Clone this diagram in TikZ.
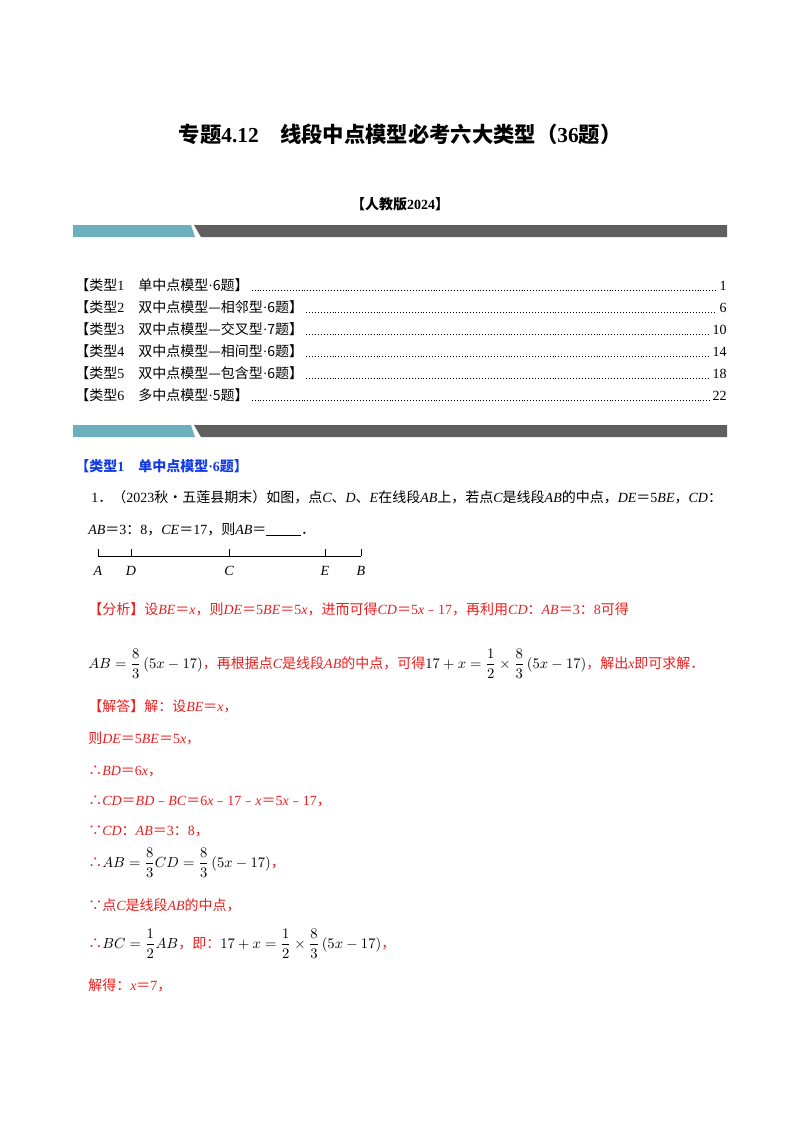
\documentclass[tikz,border=0pt]{standalone}
\usepackage{amsmath}
\usepackage{fontspec}
\setmainfont{Noto Sans CJK SC}
\newfontfamily\lat{Liberation Serif}
\newcommand{\vi}[1]{{\lat\itshape #1}}
\newcommand{\rn}[1]{{\lat #1}}
\definecolor{ared}{RGB}{235,30,30}
\definecolor{ablue}{RGB}{20,60,230}
\definecolor{teal1}{RGB}{110,175,190}
\definecolor{gray1}{RGB}{95,95,95}
\begin{document}
\begin{tikzpicture}[x=0.75pt,y=-0.75pt,
  txt/.style={anchor=base west,inner sep=0pt,font=\fontsize{10.5}{12}\selectfont},
  red/.style={txt,text=ared},
  toc/.style={txt},
  pg/.style={anchor=base east,inner sep=0pt,font=\fontsize{10.5}{12}\selectfont},
  lead/.style={line width=0.6pt,dash pattern=on 0.6pt off 1.6pt},
  tick/.style={line width=0.6pt}]
\useasboundingbox (0,0) rectangle (800,1132);
\fill[white] (0,0) rectangle (800,1132);
% title
\node[inner sep=0pt,font=\fontsize{16}{19}\bfseries\selectfont] (title) at (400,134) {专题\rn{\textbf{4.12}}　线段中点模型必考六大类型（\rn{\textbf{36}}题）};
\node[inner sep=0pt,font=\fontsize{10.5}{12}\bfseries\selectfont] (ed) at (400,204) {【人教版\rn{\textbf{2024}}】};
% bars
\newcommand{\banner}[1]{%
\fill[teal1] (73,#1) -- (191,#1) -- (195,#1+12) -- (73,#1+12) -- cycle;
\fill[gray1] (194,#1) -- (727,#1) -- (727,#1+12) -- (201,#1+12) -- cycle;}
\banner{225}
\banner{425}
% TOC
\foreach \i/\t/\p in {1/单中点模型\rn{·}6题/1,2/双中点模型—相邻型\rn{·}6题/6,3/双中点模型—交叉型\rn{·}7题/10,4/双中点模型—相间型\rn{·}6题/14,5/双中点模型—包含型\rn{·}6题/18,6/多中点模型\rn{·}5题/22}{
  \node[toc] (t\i) at (75,{285+22*(\i-1)+5}) {【类型\rn{\i}　\t】};
  \node[pg] (p\i) at (727,{285+22*(\i-1)+5}) {\rn{\p}};
  \draw[lead] ([xshift=2pt]t\i.base east) -- ([xshift=-2pt]p\i.base west);
}
% section heading
\node[txt,text=ablue,font=\fontsize{10.5}{12}\bfseries\selectfont] (h1) at (75,471) {【类型\rn{\textbf{1}}　单中点模型\rn{\textbf{·6}}题】};
\node[txt] (q1) at (91,502) {\rn{1}．（\rn{2023}秋•五莲县期末）如图，点\vi{C}、\vi{D}、\vi{E}在线段\vi{AB}上，若点\vi{C}是线段\vi{AB}的中点，\vi{DE}＝\rn{5}\vi{BE}，\vi{CD}：};
\node[txt] (q2) at (88,534) {\vi{AB}＝\rn{3}：\rn{8}，\vi{CE}＝\rn{17}，则\vi{AB}＝\rule[-1.5pt]{26pt}{0.5pt}．};
% figure
\coordinate (A) at (98,556); \coordinate (D) at (131,556); \coordinate (C) at (229,556);
\coordinate (E) at (325,556); \coordinate (B) at (361,556);
\draw[tick] (A) -- (B);
\foreach \n in {A,D,C,E,B}{
  \draw[tick] (\n) -- ++(0,-7);
  \node[inner sep=0pt,font=\fontsize{10.5}{12}\selectfont] (l\n) at ([yshift=-11pt]\n) {\vi{\n}};
}
% analysis
\node[red] (an1) at (88,614) {【分析】设\vi{BE}＝\vi{x}，则\vi{DE}＝\rn{5}\vi{BE}＝\rn{5}\vi{x}，进而可得\vi{CD}＝\rn{5}\vi{x}﹣\rn{17}，再利用\vi{CD}：\vi{AB}＝\rn{3}：\rn{8}可得};
\node[red] (an2) at (88,668) {\textcolor{black}{$AB=\dfrac{8}{3}\left(5x-17\right)$}，再根据点\vi{C}是线段\vi{AB}的中点，可得\textcolor{black}{$17+x=\dfrac12\times\dfrac83\left(5x-17\right)$}，解出\vi{x}即可求解．};
% answer
\node[red] (s1) at (88,711) {【解答】解：设\vi{BE}＝\vi{x}，};
\node[red] (s2) at (88,743) {则\vi{DE}＝\rn{5}\vi{BE}＝\rn{5}\vi{x}，};
\node[red] (s3) at (88,775) {∴\vi{BD}＝\rn{6}\vi{x}，};
\node[red] (s4) at (88,805) {∴\vi{CD}＝\vi{BD}﹣\vi{BC}＝\rn{6}\vi{x}﹣\rn{17}﹣\vi{x}＝\rn{5}\vi{x}﹣\rn{17}，};
\node[red] (s5) at (88,835) {∵\vi{CD}：\vi{AB}＝\rn{3}：\rn{8}，};
\node[red] (s6) at (88,867) {∴\textcolor{black}{$AB=\dfrac83CD=\dfrac83\left(5x-17\right)$}，};
\node[red] (s7) at (88,910) {∵点\vi{C}是线段\vi{AB}的中点，};
\node[red] (s8) at (88,948) {∴\textcolor{black}{$BC=\dfrac12AB$}，即：\textcolor{black}{$17+x=\dfrac12\times\dfrac83\left(5x-17\right)$}，};
\node[red] (s9) at (88,990) {解得：\vi{x}＝\rn{7}，};
\end{tikzpicture}
\end{document}
